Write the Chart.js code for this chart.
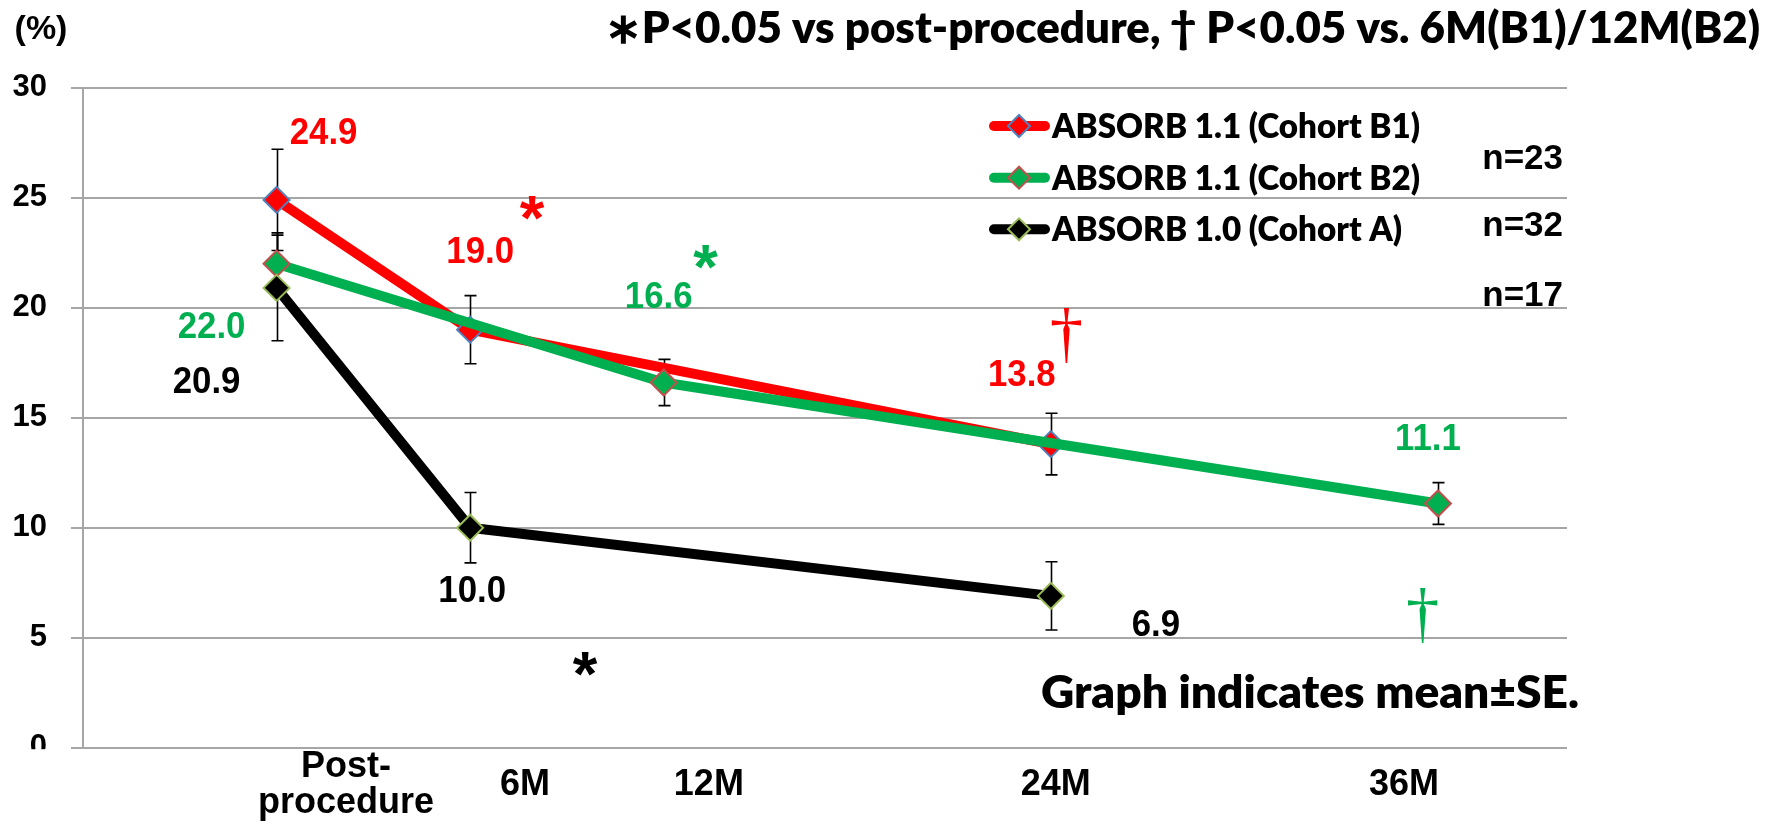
<!DOCTYPE html>
<html>
<head>
<meta charset="utf-8">
<script src="https://cdn.jsdelivr.net/npm/chart.js@4.4.0/dist/chart.umd.min.js"></script>
<style>
  html, body { margin: 0; padding: 0; background: #fff; }
  #wrap { width: 1777px; height: 825px; }
</style>
</head>
<body>
<div id="wrap"><canvas id="myChart" width="1777" height="825"></canvas></div>
<script>
// valeurs (% , moyenne +/- SE)
const seriesNames = ['ABSORB 1.1 (Cohort B1)', 'ABSORB 1.1 (Cohort B2)', 'ABSORB 1.0 (Cohort A)'];
const monthsB1 = [0, 6, 24];
const valuesB1 = [24.9, 19.0, 13.8];
const seB1 = [2.3, 1.55, 1.4];
const monthsB2 = [0, 12, 36];
const valuesB2 = [22.0, 16.6, 11.1];
const seB2 = [1.4, 1.05, 0.95];
const monthsA = [0, 6, 24];
const valuesA = [20.9, 10.0, 6.9];
const seA = [2.4, 1.6, 1.55];
const nCounts = ['n=23', 'n=32', 'n=17'];
const tickLabels = [['Post-', 'procedure'], '6M', '12M', '24M', '36M'];
const tickSpots = [2.15, 7.7, 13.4, 24.15, 34.95]; // where the text boxes sit (months)

// placement of the value labels, relative to their point (px)
const labelOffsets = [
  [[47, -66], [10, -77], [-29, -68]],
  [[-65, 64], [-5, -85], [-10, -64]],
  [[-70, 95], [2, 64], [105, 30]]
];
// significance marks: dataset, point, glyph, offset
const sigMarks = [
  { ds: 0, i: 1, glyph: '*', dx: 62, dy: -122 },
  { ds: 1, i: 1, glyph: '*', dx: 42, dy: -126 },
  { ds: 2, i: 1, glyph: '*', dx: 115, dy: 136 },
  { ds: 0, i: 2, glyph: '\u2020', dx: 16, dy: -109 },
  { ds: 1, i: 2, glyph: '\u2020', dx: -15, dy: 112 }
];

const ARIAL = '"Liberation Sans", Arial, sans-serif';
const CALIBRI = 'Lato, "Open Sans", sans-serif';

function makeSet(label, months, values, se, line, fill, edge, order) {
    return {
        label: label,
        data: months.map((m, i) => ({ x: m, y: values[i] })),
        se: se,
        borderColor: line,
        borderWidth: 10,
        borderJoinStyle: 'round',
        pointStyle: 'rectRot',
        pointRadius: 13,
        pointBackgroundColor: fill,
        pointBorderColor: edge,
        pointBorderWidth: 2,
        tension: 0,
        fill: false,
        clip: false,
        order: order
    };
}

// texte compressé horizontalement pour imiter Calibri
function fitText(ctx, text, x, cy, font, color, width) {
    ctx.save();
    ctx.font = font;
    const w = ctx.measureText(text).width;
    ctx.translate(x, cy);
    ctx.scale(width / w, 1);
    ctx.fillStyle = color;
    ctx.textAlign = 'left';
    ctx.textBaseline = 'middle';
    ctx.fillText(text, 0, 0);
    ctx.restore();
}

function drawGlyph(ctx, ch, family, weight, targetH, cx, cy, color) {
    ctx.save();
    ctx.font = weight + ' 100px ' + family;
    let m = ctx.measureText(ch);
    const fs = 100 * targetH / (m.actualBoundingBoxAscent + m.actualBoundingBoxDescent);
    ctx.font = weight + ' ' + fs + 'px ' + family;
    m = ctx.measureText(ch);
    ctx.textAlign = 'left';
    ctx.textBaseline = 'alphabetic';
    ctx.fillStyle = color;
    const x = cx - (m.actualBoundingBoxRight - m.actualBoundingBoxLeft) / 2;
    const y = cy + (m.actualBoundingBoxAscent - m.actualBoundingBoxDescent) / 2;
    ctx.fillText(ch, x, y);
    ctx.restore();
}

const errorBars = {
    id: 'errorBars',
    beforeDatasetsDraw(chart) {
        const { ctx, scales: { x, y } } = chart;
        ctx.save();
        ctx.strokeStyle = '#000';
        ctx.lineWidth = 1.6;
        chart.data.datasets.forEach(ds => {
            ds.data.forEach((p, i) => {
                const px = Math.round(x.getPixelForValue(p.x)) + 0.5;
                const top = y.getPixelForValue(p.y + ds.se[i]);
                const bot = y.getPixelForValue(p.y - ds.se[i]);
                ctx.beginPath();
                ctx.moveTo(px, top); ctx.lineTo(px, bot);
                ctx.moveTo(px - 6, top); ctx.lineTo(px + 6, top);
                ctx.moveTo(px - 6, bot); ctx.lineTo(px + 6, bot);
                ctx.stroke();
            });
        });
        ctx.restore();
    }
};

const valueLabels = {
    id: 'valueLabels',
    afterDatasetsDraw(chart) {
        const ctx = chart.ctx;
        chart.data.datasets.forEach((ds, d) => {
            const meta = chart.getDatasetMeta(d);
            ds.data.forEach((p, i) => {
                const el = meta.data[i];
                const off = labelOffsets[d][i];
                const txt = p.y.toFixed(1);
                ctx.save();
                ctx.font = 'bold 37px ' + ARIAL;
                const w = ctx.measureText(txt).width * 0.94;
                ctx.restore();
                fitText(ctx, txt, el.x + off[0] - w / 2, el.y + off[1], 'bold 37px ' + ARIAL, ds.borderColor, w);
            });
        });
        sigMarks.forEach(s => {
            const el = chart.getDatasetMeta(s.ds).data[s.i];
            const color = chart.data.datasets[s.ds].borderColor;
            if (s.glyph === '*') {
                drawGlyph(ctx, s.glyph, ARIAL, 'bold', 24, el.x + s.dx, el.y + s.dy, color);
            } else {
                drawGlyph(ctx, s.glyph, '"Liberation Serif", serif', 'normal', 54, el.x + s.dx, el.y + s.dy, color);
            }
        });
    }
};

const extras = {
    id: 'extras',
    afterDraw(chart) {
        const { ctx, chartArea } = chart;
        // le bas du "0" est masqué dans l'original
        ctx.save();
        ctx.fillStyle = '#fff';
        ctx.fillRect(0, chartArea.bottom + 1.5, chartArea.left - 1, 80);
        ctx.restore();

        // légende
        const rows = [126, 177.7, 229.3];
        const legFont = '800 34px ' + CALIBRI;
        ctx.save();
        ctx.font = legFont;
        const sx = 368 / ctx.measureText(seriesNames[1]).width;
        ctx.restore();
        chart.data.datasets.forEach((ds, d) => {
            const cy = rows[d];
            ctx.save();
            ctx.strokeStyle = ds.borderColor;
            ctx.lineWidth = 10;
            ctx.lineCap = 'round';
            ctx.beginPath();
            ctx.moveTo(994, cy); ctx.lineTo(1045, cy);
            ctx.stroke();
            ctx.beginPath();
            ctx.moveTo(1019 - 11, cy); ctx.lineTo(1019, cy - 11);
            ctx.lineTo(1019 + 11, cy); ctx.lineTo(1019, cy + 11);
            ctx.closePath();
            ctx.fillStyle = ds.pointBackgroundColor;
            ctx.fill();
            ctx.lineWidth = 2;
            ctx.strokeStyle = ds.pointBorderColor;
            ctx.stroke();
            ctx.font = legFont;
            const w = ctx.measureText(ds.label).width * sx;
            ctx.restore();
            fitText(ctx, ds.label, 1052, cy + 1, legFont, '#000', w);
        });

        // effectifs
        ctx.save();
        ctx.font = 'bold 35px ' + ARIAL;
        ctx.fillStyle = '#000';
        ctx.textAlign = 'right';
        ctx.textBaseline = 'middle';
        [159.3, 226.7, 296].forEach((cy, i) => ctx.fillText(nCounts[i], 1563, cy));
        ctx.textAlign = 'center';
        ctx.font = 'bold 34px ' + ARIAL;
        ctx.fillText('(%)', 41, 30);
        ctx.restore();

        fitText(ctx, '\u2217P<0.05 vs post-procedure, \u2020 P<0.05 vs. 6M(B1)/12M(B2)',
            605, 29, '800 43px ' + CALIBRI, '#000', 1155);
        fitText(ctx, 'Graph indicates mean\u00b1SE.', 1041, 693, '800 46px ' + CALIBRI, '#000', 538);
    }
};

const ctx = document.getElementById('myChart').getContext('2d');
new Chart(ctx, {
    type: 'line',
    data: {
        datasets: [
            makeSet(seriesNames[0], monthsB1, valuesB1, seB1, '#ff0000', '#ff0000', '#4f81bd', 3),
            makeSet(seriesNames[1], monthsB2, valuesB2, seB2, '#00b050', '#00b050', '#c0504d', 2),
            makeSet(seriesNames[2], monthsA, valuesA, seA, '#000000', '#000000', '#9bbb59', 1)
        ]
    },
    options: {
        responsive: false,
        devicePixelRatio: 1,
        animation: false,
        layout: { padding: { top: 87.7, right: 210, left: 0, bottom: 0 } },
        plugins: {
            legend: { display: false },
            tooltip: { enabled: false },
            title: { display: false }
        },
        scales: {
            x: {
                type: 'linear',
                min: -6,
                max: 40,
                grid: { display: false },
                border: { display: false },
                afterBuildTicks: scale => { scale.ticks = tickSpots.map(v => ({ value: v })); },
                afterFit: scale => { scale.height = 77.3; },
                ticks: {
                    autoSkip: false,
                    maxRotation: 0,
                    crossAlign: 'center',
                    padding: 11,
                    color: '#000',
                    font: { family: ARIAL, weight: 'bold', size: 36, lineHeight: 1.0 },
                    callback: (value, index) => tickLabels[index]
                }
            },
            y: {
                min: 0,
                max: 30,
                afterFit: scale => { scale.width = 83; },
                grid: { color: '#a6a6a6', lineWidth: 2, tickLength: 12, tickColor: '#a6a6a6' },
                border: { color: '#a6a6a6', width: 2 },
                ticks: {
                    stepSize: 5,
                    padding: 24,
                    color: '#000',
                    font: { family: ARIAL, weight: 'bold', size: 31 }
                }
            }
        }
    },
    plugins: [errorBars, valueLabels, extras]
});
</script>
</body>
</html>
